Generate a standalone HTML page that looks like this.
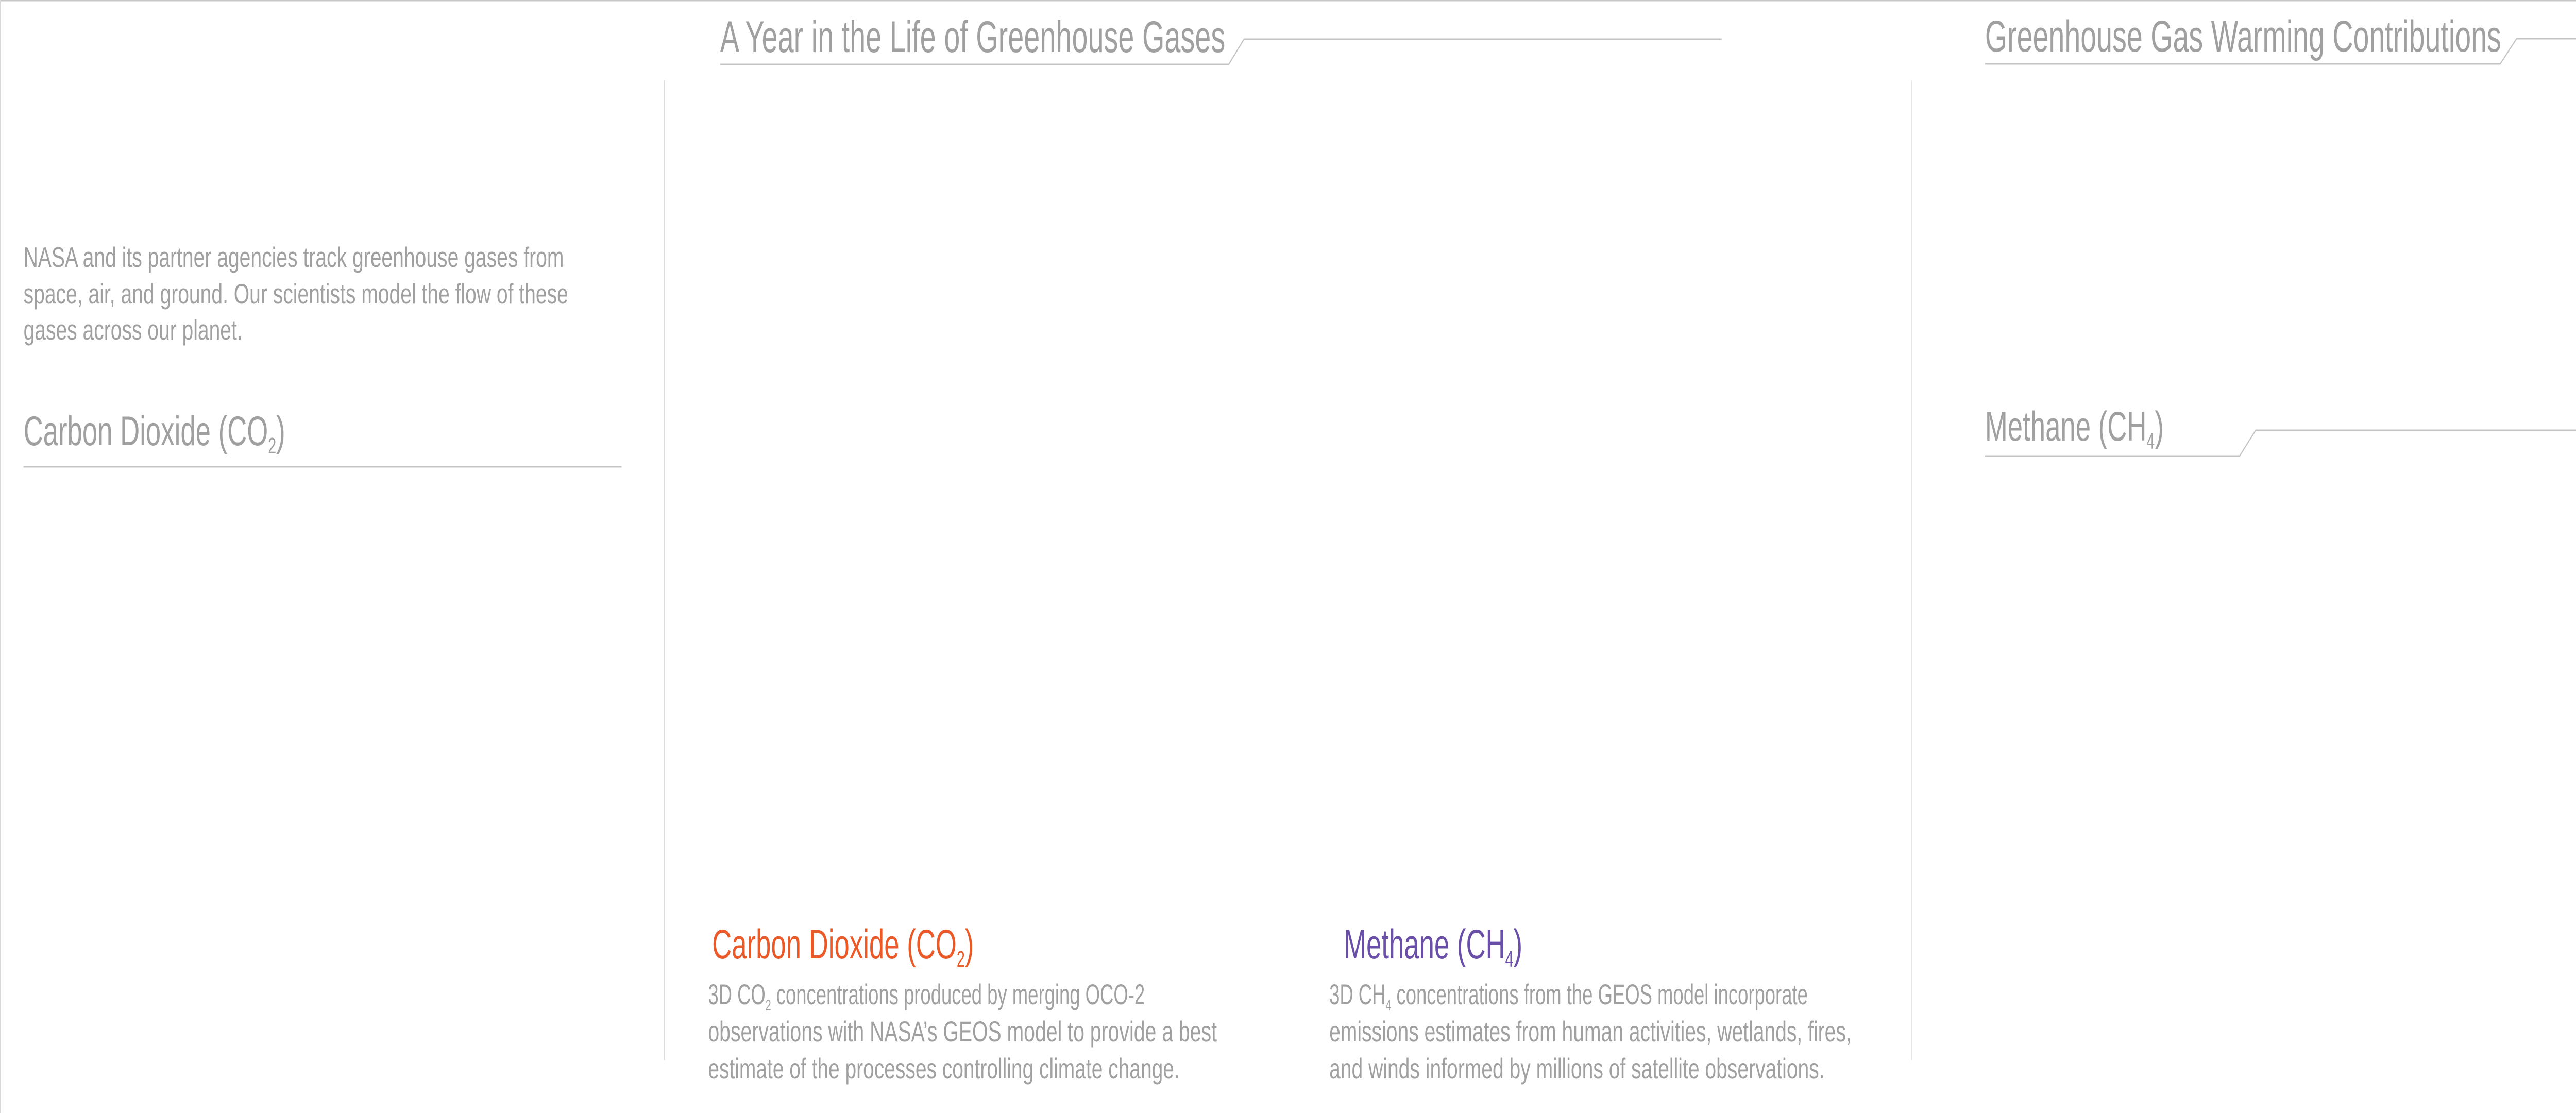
<!DOCTYPE html>
<html><head><meta charset="utf-8"><style>
html,body{margin:0;padding:0;background:#fff;overflow:hidden;width:100%;height:100%;}
svg{display:block;width:100vw;height:100vh;font-family:"Liberation Sans",Arial,sans-serif;}
.g{fill:#a0a0a0;}
</style></head><body>
<svg viewBox="0 0 7680 2160" preserveAspectRatio="none">
<rect x="0" y="0" width="7680" height="2160" fill="#fff"/>
<line x1="0" y1="1" x2="7680" y2="1" stroke="#c8c8c8" stroke-width="3"/>
<line x1="1" y1="0" x2="1" y2="2160" stroke="#d8d8d8" stroke-width="3"/>
<line x1="1981" y1="156" x2="1981" y2="2058" stroke="#dcdcdc" stroke-width="3"/>
<line x1="5700" y1="156" x2="5700" y2="2058" stroke="#e4e4e4" stroke-width="3"/>

<text class="g" x="2147" y="101" font-size="86" textLength="1506" lengthAdjust="spacingAndGlyphs">A Year in the Life of Greenhouse Gases</text>
<polyline points="2147,125 3663,125 3709,76 5133,76" fill="none" stroke="#c4c4c4" stroke-width="3"/>

<text class="g" x="5918" y="100" font-size="86" textLength="1539" lengthAdjust="spacingAndGlyphs">Greenhouse Gas Warming Contributions</text>
<polyline points="5918,124 7454,124 7503,75 7680,75" fill="none" stroke="#c4c4c4" stroke-width="3"/>

<g>
<text class="g" x="70" y="518" font-size="55" textLength="1611" lengthAdjust="spacingAndGlyphs">NASA and its partner agencies track greenhouse gases from</text>
<text class="g" x="70" y="589" font-size="55" textLength="1624" lengthAdjust="spacingAndGlyphs">space, air, and ground. Our scientists model the flow of these</text>
<text class="g" x="70" y="659" font-size="55" textLength="653" lengthAdjust="spacingAndGlyphs">gases across our planet.</text>
</g>

<text class="g" x="70" y="864" font-size="81">Carbon Dioxide (CO<tspan font-size="44" dy="16">2</tspan><tspan dy="-16">)</tspan></text>
<line x1="70" y1="906" x2="1853" y2="906" stroke="#c4c4c4" stroke-width="3"/>

<text class="g" x="5918" y="855" font-size="81">Methane (CH<tspan font-size="44" dy="16">4</tspan><tspan dy="-16">)</tspan></text>
<polyline points="5918,885 6677,885 6725,835 7680,835" fill="none" stroke="#c4c4c4" stroke-width="3"/>

<text x="2123" y="1860" font-size="81" fill="#ea5a28">Carbon Dioxide (CO<tspan font-size="44" dy="16">2</tspan><tspan dy="-16">)</tspan></text>
<g>
<text class="g" x="2111" y="1949" font-size="56">3D CO<tspan font-size="30" dy="12">2</tspan><tspan dy="-12"> concentrations produced by merging OCO-2</tspan></text>
<text class="g" x="2111" y="2021" font-size="56" textLength="1517" lengthAdjust="spacingAndGlyphs">observations with NASA’s GEOS model to provide a best</text>
<text class="g" x="2111" y="2093" font-size="56" textLength="1406" lengthAdjust="spacingAndGlyphs">estimate of the processes controlling climate change.</text>
</g>

<text x="4006" y="1860" font-size="81" fill="#6a4fa8">Methane (CH<tspan font-size="44" dy="16">4</tspan><tspan dy="-16">)</tspan></text>
<g>
<text class="g" x="3963" y="1949" font-size="56">3D CH<tspan font-size="30" dy="12">4</tspan><tspan dy="-12"> concentrations from the GEOS model incorporate</tspan></text>
<text class="g" x="3963" y="2021" font-size="56" textLength="1557" lengthAdjust="spacingAndGlyphs">emissions estimates from human activities, wetlands, fires,</text>
<text class="g" x="3963" y="2093" font-size="56" textLength="1477" lengthAdjust="spacingAndGlyphs">and winds informed by millions of satellite observations.</text>
</g>
</svg>
</body></html>
